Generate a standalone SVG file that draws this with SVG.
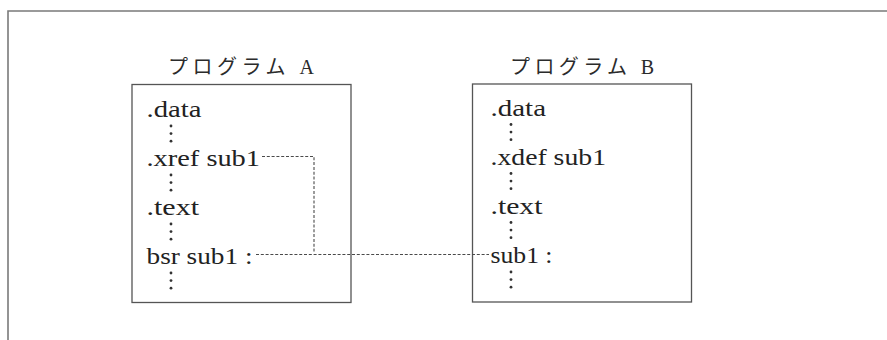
<svg xmlns="http://www.w3.org/2000/svg" width="887" height="340" viewBox="0 0 887 340">
  <style>
    .frame { fill: none; stroke: #7a7a7a; stroke-width: 1.6; }
    .box { fill: none; stroke: #555; stroke-width: 1.3; }
    .code { font-family: "Liberation Serif", "Noto Sans CJK JP", serif; font-size: 23px; fill: #222; }
    .title { font-family: "Liberation Serif", "Noto Sans CJK JP", serif; font-size: 20px; fill: #2b2b2b; }
    .dot { fill: #333; }
    .link { fill: none; stroke: #4a4a4a; stroke-width: 1.1; stroke-dasharray: 3 1.8; }
  </style>
  <defs>
    <!-- vertical ellipsis -->
    <g id="vdots">
      <circle class="dot" cx="0" cy="0" r="1.4"/>
      <circle class="dot" cx="0" cy="7.6" r="1.4"/>
      <circle class="dot" cx="0" cy="15.2" r="1.4"/>
    </g>
  </defs>

  <rect width="887" height="340" fill="#fff"/>
  <!-- outer frame -->
  <path class="frame" d="M8 340 V11 H887"/>

  <g id="programA">
    <text class="title" x="168" y="74" textLength="146" lengthAdjust="spacing">プログラム A</text>
    <rect class="box" x="132" y="84.5" width="219" height="218"/>
    <text class="code" x="146.5" y="116.5" textLength="55" lengthAdjust="spacingAndGlyphs">.data</text>
    <use href="#vdots" x="171" y="126"/>
    <text class="code" x="146.5" y="165.5" textLength="113.5" lengthAdjust="spacingAndGlyphs">.xref sub1</text>
    <use href="#vdots" x="171" y="175"/>
    <text class="code" x="146.5" y="214.5" textLength="52.5" lengthAdjust="spacingAndGlyphs">.text</text>
    <use href="#vdots" x="171" y="224"/>
    <text class="code" x="146.5" y="263.5" textLength="106" lengthAdjust="spacingAndGlyphs">bsr sub1 :</text>
    <use href="#vdots" x="171" y="273"/>
  </g>

  <g id="programB">
    <text class="title" x="510" y="74" textLength="144" lengthAdjust="spacing">プログラム B</text>
    <rect class="box" x="472.5" y="84" width="219" height="218"/>
    <text class="code" x="490.5" y="115.5" textLength="55.5" lengthAdjust="spacingAndGlyphs">.data</text>
    <use href="#vdots" x="511" y="124.5"/>
    <text class="code" x="490.5" y="164.5" textLength="115.5" lengthAdjust="spacingAndGlyphs">.xdef sub1</text>
    <use href="#vdots" x="511" y="173.5"/>
    <text class="code" x="490.5" y="213.5" textLength="52" lengthAdjust="spacingAndGlyphs">.text</text>
    <use href="#vdots" x="511" y="222.5"/>
    <text class="code" x="490.5" y="262.5" textLength="62" lengthAdjust="spacingAndGlyphs">sub1 :</text>
    <use href="#vdots" x="511" y="272"/>
  </g>

  <g id="connectors">
    <path class="link" d="M262 156.5 H314 V252"/>
    <path class="link" d="M256 254.5 H489"/>
  </g>
</svg>
